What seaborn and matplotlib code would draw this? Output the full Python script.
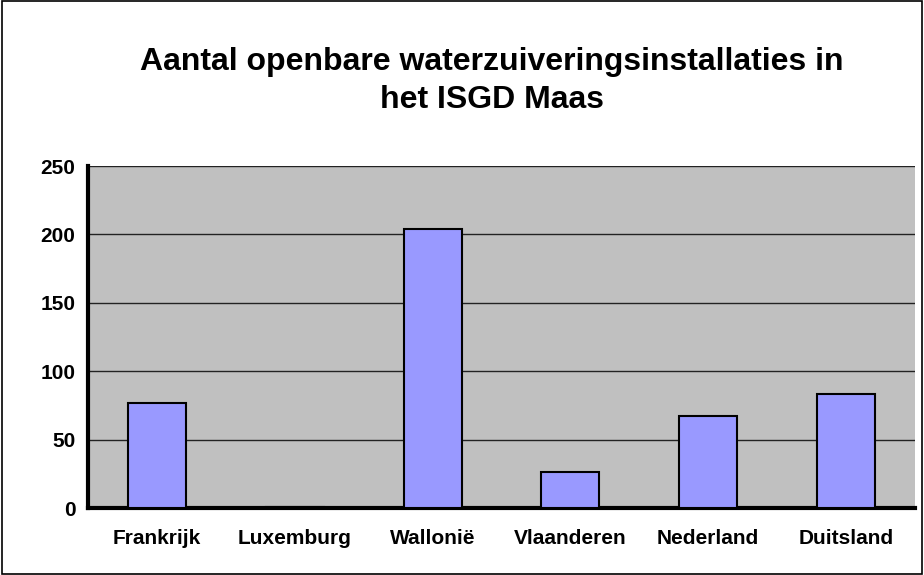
import pandas as pd
import numpy as np
import matplotlib.pyplot as plt
import seaborn as sns
from matplotlib.patches import Rectangle
from matplotlib.ticker import FixedLocator

# ----------------------------------------------
# Data: number of public waste water treatment plants
# ----------------------------------------------
landen = ["Frankrijk", "Luxemburg", "Wallonië", "Vlaanderen", "Nederland", "Duitsland"]
aantal = [77, 1, 204, 26, 67, 83]

df = pd.DataFrame({"land": landen, "aantal": aantal})

sns.set_style("white")
plt.rcParams['font.family'] = ['Liberation Sans', 'DejaVu Sans']
plt.rcParams['text.color'] = 'black'
plt.rcParams['xtick.color'] = 'black'
plt.rcParams['ytick.color'] = 'black'

fig = plt.figure(figsize=(9.24, 5.75), dpi=100)
ax = fig.add_axes([88 / 924, 1 - 508 / 575, (915 - 88) / 924, (508 - 166) / 575])

sns.barplot(data=df, x="land", y="aantal", color="#9999FF", edgecolor="black",
            linewidth=1.5, width=0.42, saturation=1, ax=ax, zorder=3)

ax.set_facecolor("#C0C0C0")
ax.set_ylim(0, 250)
ax.set_xlim(-0.5, len(landen) - 0.5)
ax.set_yticks(np.arange(0, 251, 50))
ax.yaxis.grid(True, color="#222222", linewidth=1)
ax.set_axisbelow(True)
ax.set_xlabel("")
ax.set_ylabel("")

for side in ["top", "right"]:
    ax.spines[side].set_visible(False)
for side in ["left", "bottom"]:
    ax.spines[side].set_linewidth(3)
    ax.spines[side].set_color("black")

ax.tick_params(axis="y", length=6, width=2.5, direction="out", pad=3, labelsize=15)
ax.tick_params(axis="x", which="major", length=0, pad=15, labelsize=15)
ax.xaxis.set_minor_locator(FixedLocator(np.arange(-0.5, len(landen), 1)))
ax.tick_params(axis="x", which="minor", length=6, width=2.5, direction="out")
for lab in ax.get_xticklabels() + ax.get_yticklabels():
    lab.set_fontweight("bold")

fig.text(0.532, 1 - 81 / 575, "Aantal openbare waterzuiveringsinstallaties in\nhet ISGD Maas",
         ha="center", va="center", fontsize=23, fontweight="bold", linespacing=1.33)

# outer chart border
fig.patches.append(Rectangle((0.002, 0.002), 0.996, 0.996, transform=fig.transFigure,
                             fill=False, edgecolor="black", linewidth=1.2))

fig.savefig("out.png", dpi=100)
